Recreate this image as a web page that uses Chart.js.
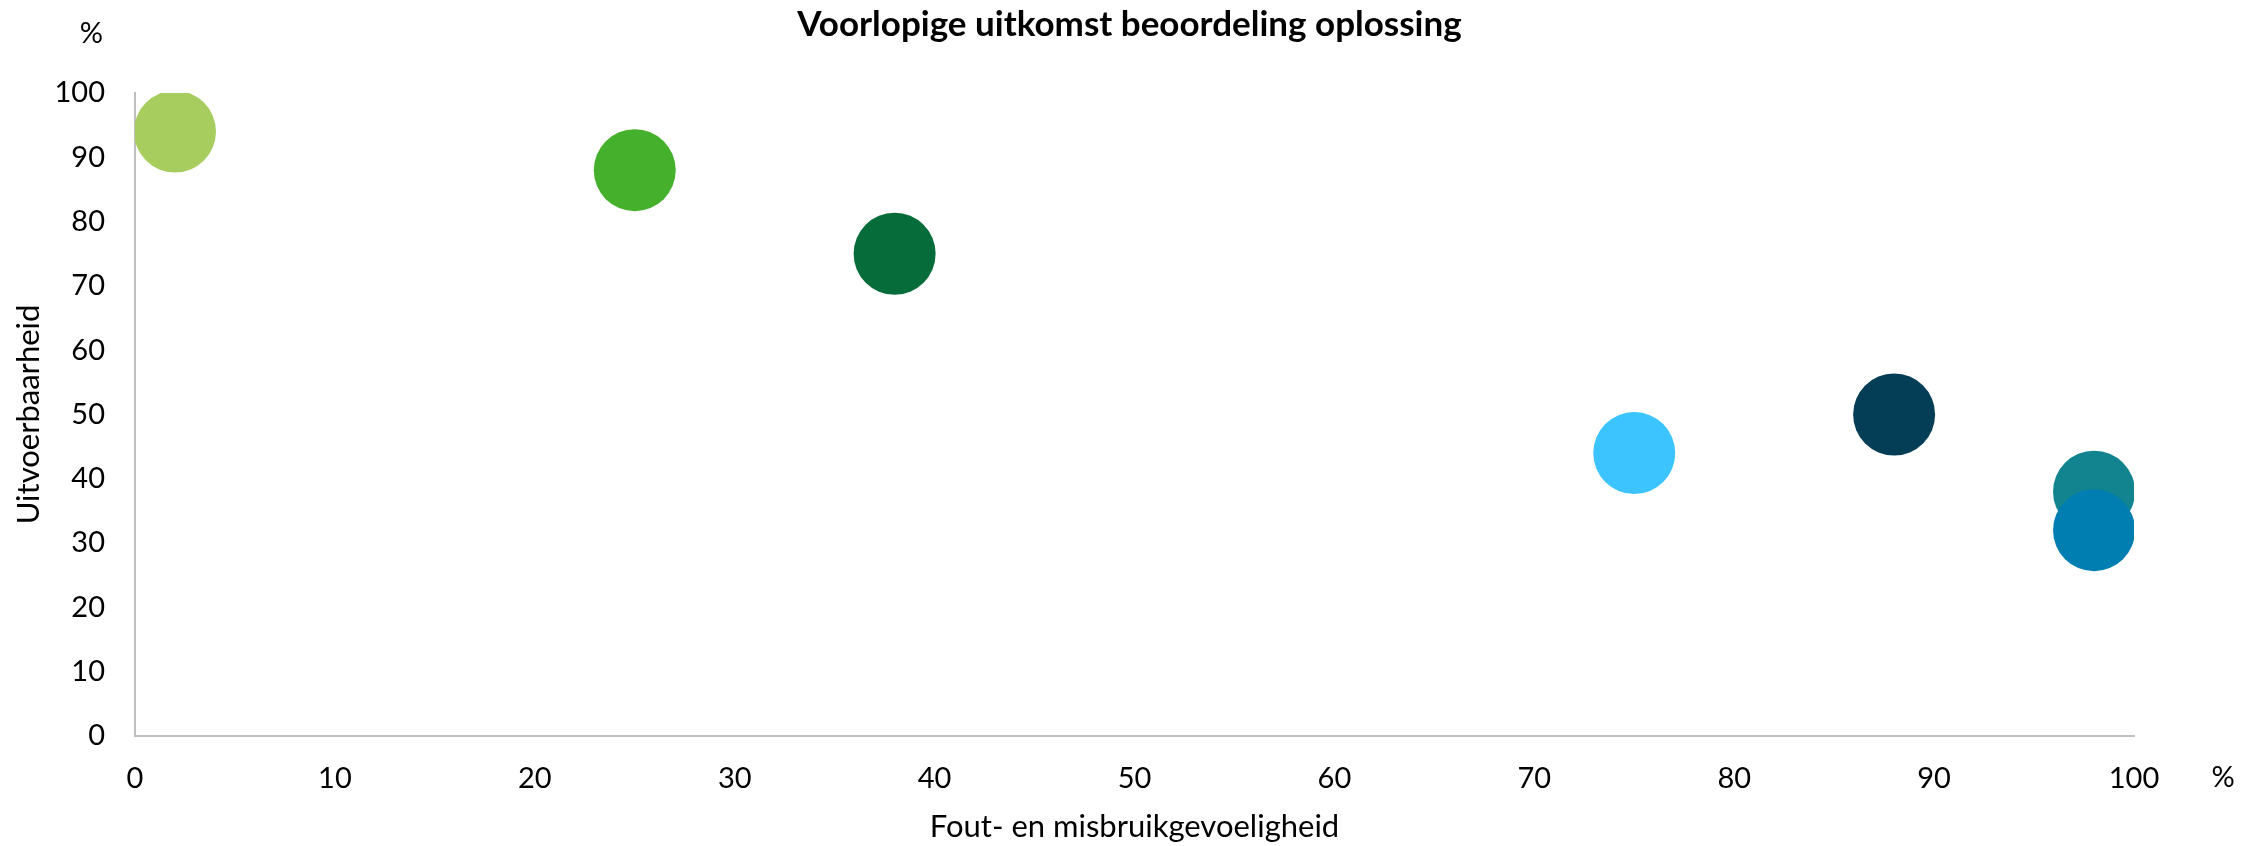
<!DOCTYPE html>
<html>
<head>
<meta charset="utf-8">
<script src="https://cdn.jsdelivr.net/npm/chart.js@4.4.1/dist/chart.umd.min.js"></script>
<style>
  html, body { margin: 0; padding: 0; background: #fff; }
  #wrap { width: 2259px; height: 846px; }
</style>
</head>
<body>
<div id="wrap"><canvas id="chart"></canvas></div>
<script>
// Values
const xValues = [2, 25, 38, 75, 88, 98, 98];     // Fout- en misbruikgevoeligheid (%)
const yValues = [94, 88, 75, 44, 50, 38, 32];    // Uitvoerbaarheid (%)
const axisMin = 0;
const axisMax = 100;
const axisStep = 10;

const bubbleColors = ['#A6CD5E', '#45B02B', '#066C3A', '#3BC4FF', '#033E56', '#11848F', '#007EB2'];

const FONT = 'Lato, "Liberation Sans", sans-serif';
const TEXT = '#000000';
const AXIS = '#BFBFBF';

// the two "%" unit marks next to the axes
const unitMarks = {
    id: 'unitMarks',
    afterDraw(chart) {
        const { ctx, chartArea } = chart;
        ctx.save();
        ctx.fillStyle = TEXT;
        ctx.font = '29px ' + FONT;
        ctx.textBaseline = 'middle';
        ctx.textAlign = 'right';
        ctx.fillText('%', chartArea.left - 32, 34);
        ctx.textAlign = 'center';
        ctx.fillText('%', chartArea.right + 89, chartArea.bottom + 42);
        ctx.restore();
    }
};

const points = xValues.map((x, i) => ({ x, y: yValues[i] }));

new Chart(document.getElementById('chart'), {
    type: 'scatter',
    data: {
        datasets: [{
            data: points,
            backgroundColor: bubbleColors,
            borderWidth: 0,
            pointRadius: 41,
            pointHoverRadius: 41,
            clip: 0
        }]
    },
    options: {
        responsive: true,
        maintainAspectRatio: false,
        animation: false,
        events: [],
        layout: { padding: { left: 10, right: 10, top: 0, bottom: 0 } },
        plugins: {
            legend: { display: false },
            tooltip: { enabled: false },
            title: {
                display: true,
                text: 'Voorlopige uitkomst beoordeling oplossing',
                color: TEXT,
                font: { family: FONT, size: 35, weight: 'bold', lineHeight: 1.2 },
                padding: { top: 4, bottom: 47 }
            }
        },
        scales: {
            x: {
                type: 'linear',
                min: axisMin,
                max: axisMax,
                ticks: { stepSize: axisStep, color: TEXT, padding: 25, font: { family: FONT, size: 29 } },
                grid: { display: false, drawTicks: false },
                border: { display: true, color: AXIS, width: 2 },
                title: {
                    display: true,
                    text: 'Fout- en misbruikgevoeligheid',
                    color: TEXT,
                    font: { family: FONT, size: 31, lineHeight: 1.2 },
                    padding: { top: 14, bottom: 0 }
                },
                afterFit(scale) { scale.height = 110; }
            },
            y: {
                type: 'linear',
                min: axisMin,
                max: axisMax,
                ticks: { stepSize: axisStep, color: TEXT, padding: 30, font: { family: FONT, size: 29 } },
                grid: { display: false, drawTicks: false },
                border: { display: true, color: AXIS, width: 2 },
                title: {
                    display: true,
                    text: 'Uitvoerbaarheid',
                    color: TEXT,
                    font: { family: FONT, size: 31, lineHeight: 1.2 },
                    padding: { top: 0, bottom: 10 }
                },
                afterFit(scale) { scale.width = 125; }
            },
            // empty right margin so the title centres on the whole picture
            yRight: {
                type: 'linear',
                position: 'right',
                min: axisMin,
                max: axisMax,
                ticks: { display: false },
                grid: { display: false, drawTicks: false },
                border: { display: false },
                afterFit(scale) { scale.width = 115; }
            }
        }
    },
    plugins: [unitMarks]
});
</script>
</body>
</html>
